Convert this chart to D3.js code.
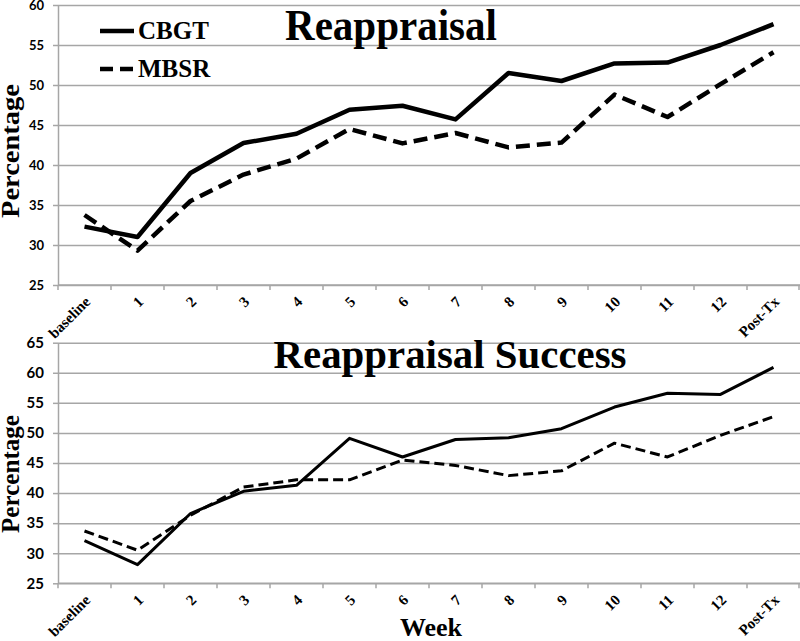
<!DOCTYPE html>
<html><head><meta charset="utf-8">
<script src="https://cdn.jsdelivr.net/npm/d3@7"></script>
<style>body{margin:0;background:#fff}svg{display:block}</style>
</head><body>
<svg id="c" width="800" height="641"></svg>
<script>
const categories = ["baseline","1","2","3","4","5","6","7","8","9","10","11","12","Post-Tx"];
const seriesNames = ["CBGT","MBSR"];
const reappCBGT = [32.3,31.0,39.0,42.75,43.9,46.9,47.4,45.7,51.5,50.5,52.7,52.8,55.0,57.6];
const reappMBSR = [33.75,29.3,35.5,38.8,40.8,44.5,42.7,44.0,42.2,42.8,48.8,46.0,50.1,54.1];
const succCBGT = [32.1,28.1,36.6,40.3,41.3,49.1,46.0,48.9,49.2,50.7,54.3,56.6,56.4,60.9];
const succMBSR = [33.7,30.5,36.3,41.0,42.2,42.2,45.5,44.6,42.9,43.7,48.3,46.0,49.6,52.7];
const reappTicks = [25,30,35,40,45,50,55,60];
const succTicks = [25,30,35,40,45,50,55,60,65];

const svg = d3.select("#c");
const L = 58, R = 800;
const x = d3.scaleBand().domain(categories).range([L, R]).padding(0);
const cx = d => x(d) + x.bandwidth()/2;
const gridColor = "#a6a6a6";
const serif = "'Liberation Serif', 'Times New Roman', serif";

function panel(cfg){
  const y = d3.scaleLinear().domain([cfg.ticks[0], cfg.ticks[cfg.ticks.length-1]]).range([cfg.bottom, cfg.top]);
  const g = svg.append("g");
  g.append("g").attr("transform",`translate(${L},0)`)
    .call(d3.axisLeft(y).tickValues(cfg.ticks).tickSize(-(R-L)).tickFormat(""))
    .call(s=>{s.select(".domain").remove(); s.selectAll("line").attr("stroke",gridColor).attr("stroke-width",1.5);});
  g.append("g").attr("transform",`translate(${L},0)`)
    .call(d3.axisLeft(y).tickValues(cfg.ticks).tickSize(5).tickPadding(9).tickSizeOuter(0))
    .call(s=>{
      s.select(".domain").attr("stroke",gridColor).attr("stroke-width",1.5);
      s.selectAll("line").attr("stroke",gridColor).attr("stroke-width",1.5);
      s.selectAll("text").attr("font-family","Lato, 'Liberation Sans', sans-serif").attr("font-weight","bold")
        .attr("font-size",cfg.yFont).attr("fill","#000");
    });
  g.append("line").attr("x1",L).attr("x2",R).attr("y1",cfg.bottom).attr("y2",cfg.bottom)
    .attr("stroke",gridColor).attr("stroke-width",1.5);
  const bounds = categories.map(c=>x(c)).concat([R-1]);
  g.selectAll(".bt").data(bounds).enter().append("line")
    .attr("x1",d=>d).attr("x2",d=>d).attr("y1",cfg.bottom).attr("y2",cfg.bottom+5)
    .attr("stroke",gridColor).attr("stroke-width",1.5);
  g.selectAll(".xl").data(categories).enter().append("text")
    .attr("transform",d=>`translate(${cx(d)+3},${cfg.bottom+14}) rotate(-45)`)
    .attr("text-anchor","end").attr("dy","0.35em")
    .attr("font-family",serif).attr("font-weight","bold")
    .attr("font-size",15).attr("fill","#000").text(d=>d);
  const line = d3.line().x((d,i)=>cx(categories[i])).y(d=>y(d));
  g.append("path").datum(cfg.a).attr("d",line).attr("fill","none").attr("stroke","#000")
    .attr("stroke-width",cfg.lw).attr("stroke-linejoin","round");
  g.append("path").datum(cfg.b).attr("d",line).attr("fill","none").attr("stroke","#000")
    .attr("stroke-width",cfg.lw).attr("stroke-dasharray",cfg.dash).attr("stroke-linejoin","round");
  g.append("text").attr("x",cfg.titleX).attr("y",cfg.titleY).attr("text-anchor","middle")
    .attr("font-family",serif).attr("font-weight","bold")
    .attr("font-size",cfg.titleFont).attr("textLength",cfg.titleLen).attr("lengthAdjust","spacingAndGlyphs")
    .attr("fill","#000").text(cfg.title);
  g.append("text").attr("transform",`translate(${cfg.yTitleX},${cfg.yTitleY}) rotate(-90)`)
    .attr("text-anchor","middle")
    .attr("font-family",serif).attr("font-weight","bold")
    .attr("font-size",25).attr("textLength",cfg.yTitleLen).attr("lengthAdjust","spacingAndGlyphs")
    .attr("fill","#000").text("Percentage");
  return y;
}

panel({ticks:reappTicks, top:5, bottom:285, a:reappCBGT, b:reappMBSR, lw:4.5, dash:"14,7",
  title:"Reappraisal", titleX:391, titleY:40, titleFont:44, titleLen:212, yFont:13,
  yTitleX:19, yTitleY:151, yTitleLen:134});
panel({ticks:succTicks, top:342.7, bottom:583.3, a:succCBGT, b:succMBSR, lw:3, dash:"10,5",
  title:"Reappraisal Success", titleX:450, titleY:368, titleFont:41, titleLen:353, yFont:15,
  yTitleX:19, yTitleY:474, yTitleLen:118});

const leg = svg.append("g");
seriesNames.forEach((n,i)=>{
  const yy = 31 + i*38;
  leg.append("line").attr("x1",100).attr("x2",134).attr("y1",yy).attr("y2",yy)
    .attr("stroke","#000").attr("stroke-width",4.5).attr("stroke-dasharray", i? "13,7":null);
  leg.append("text").attr("x",138).attr("y",yy+7.5)
    .attr("font-family",serif).attr("font-weight","bold")
    .attr("font-size",25).attr("fill","#000").text(n);
});

svg.append("text").attr("x",431).attr("y",636).attr("text-anchor","middle")
  .attr("font-family",serif).attr("font-weight","bold")
  .attr("font-size",26).attr("fill","#000").text("Week");
</script>
</body></html>
